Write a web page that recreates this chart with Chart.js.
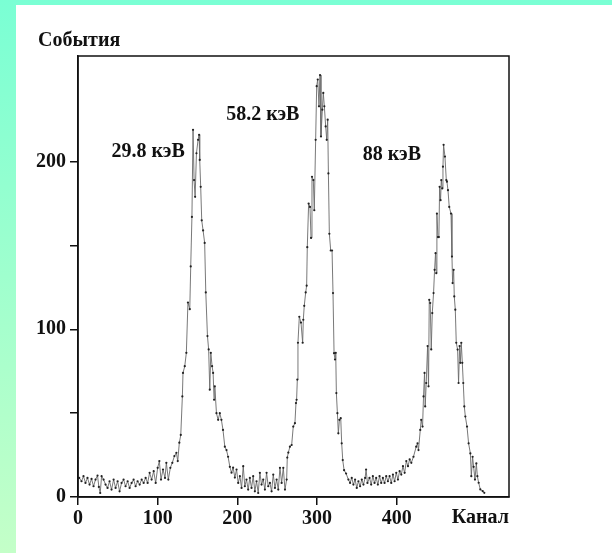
<!DOCTYPE html>
<html>
<head>
<meta charset="utf-8">
<script src="https://cdn.jsdelivr.net/npm/chart.js@4.4.1/dist/chart.umd.min.js"></script>
<style>
  html, body { margin: 0; padding: 0; background: #fff; }
  #wrap { width: 612px; height: 553px; }
</style>
</head>
<body>
<div id="wrap"><canvas id="myChart" width="612" height="553"></canvas></div>
<script>
// spectrum: channel numbers and counts
const channels = [
  1.5, 4.4, 6.9, 9.4, 11.9, 14.5, 17, 19.5, 22, 24.5, 26.2, 27.9, 29.6, 32.1, 34.6, 37.1, 39.6, 42.1, 44.7, 47.2,
  49.7, 52.2, 54.7, 57.2, 59.7, 62.3, 64.8, 67.3, 69.8, 72.3, 74.8, 77.4, 79.9, 82.4, 84.9, 87.4, 89.9, 92.4, 95, 97.5,
  100, 102.1, 104.2, 106.7, 109.2, 110.9, 113.4, 115.9, 118.4, 121, 123.5, 125.2, 127.2,
  129, 131, 131.8, 134, 136, 138, 140.3, 141.5, 143, 144.4, 145.7, 147, 148.7, 150.7, 152, 152.8, 154, 155.3, 157, 159,
  160.4, 162.5, 164, 165.4, 166.7, 168.3, 169.6, 170.8, 171.7, 173.8, 175.9, 178, 180, 182, 184.3, 186.4, 188.4, 190.6,
  192.7, 194.7, 196.9,
  199, 201.1, 203.2, 205.3, 207.4, 209.4, 211.5, 213.6, 215.7, 217.8, 219.9, 222, 224.1, 226.2, 228.3, 230.4, 232.5,
  234.6, 236.7, 238.8, 240.9, 243, 245.1, 247.2, 249.3, 251.4, 253.5, 255.6, 257.7, 259.8, 261.9,
  262.7, 264, 266, 268.2, 270.2, 272.3, 273.6, 274.4, 275.3, 276.1, 277.8, 279.9, 282, 282.8, 284, 285.8, 287, 287.8,
  289.5, 291.2, 292.5, 293.7, 295.4, 296.6, 298.3, 299.6, 300.9, 302.5, 303.8, 305, 306.7, 307.9, 309.2, 310.9, 312.2,
  313.4, 314.3, 315.5, 317.2, 318.9, 320.1, 321.4, 322.6, 323.5, 324.3, 325.6, 326.8, 328.1, 329.8, 331, 332.3, 334, 336.5,
  339.4, 341.5, 343.6, 345.7, 347.8, 349.9, 352, 354.1, 356.2, 358.3, 360.4, 361.6, 363.3, 365.9, 368, 370.1, 372.2,
  374.3, 376.4, 378.5, 380.6, 382.7, 384.8, 386.9, 389, 391.1, 393.2, 395.3, 397.4, 399.5, 401.6, 403.7, 405.8, 407.9,
  410, 412.1, 414.2, 416.3, 418.4,
  421.1, 424.5, 426.2, 427.4, 429.6, 430.8, 432.5, 433.7, 435, 435.8, 437.1, 438.8, 440, 440.9, 442.1, 443.4, 444.7,
  446.3, 447.6, 448.8, 449.7, 450.5, 451.8, 453, 453.9, 455.1, 456, 457.2, 458.1, 458.9, 460.6, 462.3, 463.1, 464.4,
  466, 468.2, 469.4, 470.2, 471.5, 472.3, 473.6, 474.8, 476.5, 477.7, 479, 479.9, 481.1, 482.4, 483.6, 484.9, 486.2,
  488.3, 490.3, 492.5, 493.7, 495.3, 496.6, 498.3, 500, 501.3, 502.9, 505, 508, 510
];
const counts = [
  11.4, 9.4, 12.4, 8.4, 11.4, 7.4, 10.8, 6.4, 10.4, 12.8, 6, 2.4, 12.4, 10.4, 7.4, 5.4, 9.4, 4.4, 10.4, 5.4,
  9.4, 3.4, 8.4, 10.4, 6.4, 9.4, 5.4, 8.4, 10.4, 6.4, 9.4, 7.4, 10.4, 8.4, 11.4, 8.4, 14.4, 10.4, 15.4, 8.4,
  17.4, 21.4, 10.4, 16.4, 11.4, 20.4, 10.4, 17.4, 20.4, 24.4, 26.4, 21.4, 32.4,
  37, 60, 74, 78, 86, 116, 112, 137.5, 167, 219, 189, 179, 205, 213, 216, 201, 185, 165, 159, 151.5,
  122, 96, 88, 64, 86, 78, 74, 58, 66, 50, 46, 50, 46, 40, 30, 28, 24, 18,
  14.5, 17.5, 11.6,
  16.4, 8.4, 12.4, 5.4, 18.4, 6.4, 10.4, 4.4, 11.4, 5.4, 12.4, 3.4, 9.4, 2.4, 14.4, 7.4, 10.4,
  4.4, 14.4, 6.4, 8.4, 3.4, 13.4, 5.4, 10.4, 4.4, 17.4, 8.4, 17.4, 4.4, 10.4,
  23.5, 26.5, 30, 31, 42, 44, 56, 58, 70, 92, 107.5, 104, 92, 105.7, 114, 122, 126, 149,
  175, 173, 154.5, 191, 189, 171, 213, 245, 249, 233, 251.6, 215, 231, 241, 233, 221, 213,
  225, 193, 157, 147, 147, 121.6, 85.8, 82, 86, 62, 50, 38, 46, 47, 32, 22, 16, 14,
  10.4, 8.4, 11.4, 7.4, 10.4, 5.4, 9.4, 6.4, 10.4, 7.4, 11.4, 16.4, 8.4, 11.4, 7.4, 12.4, 8.4,
  11.4, 7.4, 12.4, 8.4, 11.4, 8.4, 12.4, 9.4, 12.4, 8.4, 13.4, 9.4, 14.4, 10.4, 15.4, 13.4, 18.4,
  14.4, 21.4, 18.4, 22.4, 20.4,
  24, 30, 32, 28, 40, 46, 42, 60, 74, 54, 68, 90, 66, 117.6, 115.7, 88, 109.7,
  121.6, 135.5, 145.4, 133.5, 169, 155, 155, 185, 177, 189, 184, 197, 210, 203, 189, 188, 183,
  173, 169, 143.4, 127.6, 135.5, 119.6, 111.7, 92, 87.9, 68, 90, 80, 92, 80, 68, 54, 48,
  42, 32, 26, 12.4, 24, 18, 10.4, 20, 12.4, 8.5, 4.5, 3.5, 2.5
];

// tick labels
const xTicks = [0, 100, 200, 300, 400];
const yTicks = [0, 50, 100, 150, 200];
const yLabelled = [0, 100, 200];

// peak captions, placed by channel / count
const peakText = ['29.8 кэВ', '58.2 кэВ', '88 кэВ'];
const peakX = [88, 232, 394];
const peakY = [206, 228, 204];

const yTitle = 'События';
const xTitle = 'Канал';

const FONT = '"Liberation Serif", "Times New Roman", serif';
const INK = '#111';

// фон: зелёная рамка и белое поле
const backdrop = {
  id: 'backdrop',
  beforeDraw(chart) {
    const ctx = chart.ctx;
    const g = ctx.createLinearGradient(0, 0, 0, chart.height);
    g.addColorStop(0, 'rgb(122,255,212)');
    g.addColorStop(1, 'rgb(196,255,200)');
    ctx.save();
    ctx.fillStyle = g;
    ctx.fillRect(0, 0, chart.width, chart.height);
    ctx.fillStyle = '#fff';
    ctx.fillRect(16, 5, chart.width - 16, chart.height - 5);
    ctx.restore();
  }
};

// рамка графика и подписи
const captions = {
  id: 'captions',
  afterDraw(chart) {
    const ctx = chart.ctx;
    const a = chart.chartArea;
    const xs = chart.scales.x, ys = chart.scales.y;
    ctx.save();
    ctx.strokeStyle = INK;
    ctx.lineWidth = 1.5;
    ctx.strokeRect(a.left, a.top, a.right - a.left, a.bottom - a.top);

    ctx.fillStyle = INK;
    ctx.font = 'bold 20px ' + FONT;
    ctx.textBaseline = 'middle';
    ctx.textAlign = 'center';
    peakText.forEach((t, i) => {
      ctx.fillText(t, xs.getPixelForValue(peakX[i]), ys.getPixelForValue(peakY[i]));
    });

    ctx.textBaseline = 'alphabetic';
    ctx.textAlign = 'left';
    ctx.fillText(yTitle, a.left - 40, a.top - 10);
    ctx.textAlign = 'right';
    ctx.fillText(xTitle, a.right, a.bottom + 26);
    ctx.restore();
  }
};

const points = channels.map((c, i) => ({ x: c, y: counts[i] }));

const ctx = document.getElementById('myChart').getContext('2d');
const myChart = new Chart(ctx, {
  type: 'line',
  data: {
    datasets: [{
      data: points,
      borderColor: '#6a6a6a',
      borderWidth: 0.9,
      pointRadius: 1.1,
      pointBackgroundColor: '#222',
      pointBorderWidth: 0,
      tension: 0
    }]
  },
  options: {
    responsive: false,
    animation: false,
    layout: { padding: { top: 56, right: 103, left: 0, bottom: 0 } },
    plugins: { legend: { display: false }, tooltip: { enabled: false } },
    scales: {
      x: {
        type: 'linear',
        min: 0,
        max: 541,
        afterBuildTicks: s => { s.ticks = xTicks.map(v => ({ value: v })); },
        afterFit: s => { s.height = 56; },
        grid: { drawOnChartArea: false, drawTicks: true, tickLength: 8, color: INK, lineWidth: 1.5 },
        border: { display: true, color: INK, width: 1.5 },
        ticks: { color: INK, padding: 2, maxRotation: 0, font: { family: FONT, size: 20, weight: 'bold' } }
      },
      y: {
        min: 0,
        max: 263,
        afterBuildTicks: s => { s.ticks = yTicks.map(v => ({ value: v })); },
        afterFit: s => { s.width = 78; },
        grid: { drawOnChartArea: false, drawTicks: true, tickLength: 8, color: INK, lineWidth: 1.5 },
        border: { display: true, color: INK, width: 1.5 },
        ticks: {
          color: INK,
          padding: 4,
          font: { family: FONT, size: 20, weight: 'bold' },
          callback: v => (yLabelled.includes(v) ? String(v) : '')
        }
      }
    }
  },
  plugins: [backdrop, captions]
});
</script>
</body>
</html>
